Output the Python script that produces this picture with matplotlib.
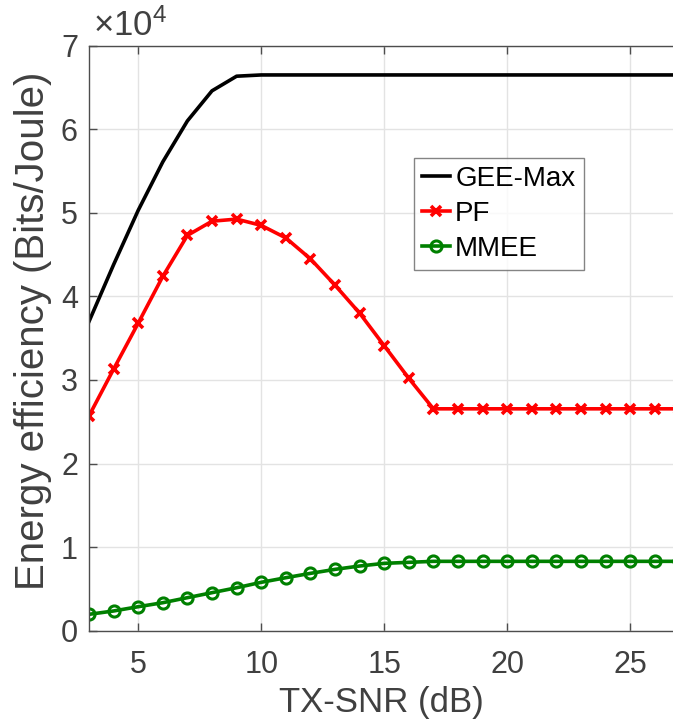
import matplotlib
matplotlib.use("Agg")
import matplotlib.pyplot as plt
import numpy as np

plt.rcParams["font.family"] = ["Liberation Sans", "DejaVu Sans"]
plt.rcParams["mathtext.fontset"] = "custom"
plt.rcParams["mathtext.rm"] = "Liberation Sans"
plt.rcParams["mathtext.it"] = "Liberation Sans"

# TX-SNR in dB
snr = list(range(3, 31))

# Energy efficiency in units of 1e4 Bits/Joule
gee_max = [3.70, 4.38, 5.03, 5.61, 6.10, 6.46, 6.635, 6.65, 6.65, 6.65, 6.65, 6.65, 6.65, 6.65,
           6.65, 6.65, 6.65, 6.65, 6.65, 6.65, 6.65, 6.65, 6.65, 6.65, 6.65, 6.65, 6.65, 6.65]
pf = [2.57, 3.13, 3.68, 4.24, 4.73, 4.90, 4.925, 4.85, 4.70, 4.45, 4.135, 3.80, 3.41, 3.02,
      2.655, 2.655, 2.655, 2.655, 2.655, 2.655, 2.655, 2.655, 2.655, 2.655, 2.655, 2.655,
      2.655, 2.655]
mmee = [0.196, 0.236, 0.287, 0.335, 0.395, 0.455, 0.514, 0.579, 0.634, 0.686, 0.734, 0.774,
        0.806, 0.818, 0.830, 0.830, 0.830, 0.830, 0.830, 0.830, 0.830, 0.830, 0.830, 0.830,
        0.830, 0.830, 0.830, 0.830]

x_ticks = [5, 10, 15, 20, 25]
y_ticks = [0, 1, 2, 3, 4, 5, 6, 7]

TXT = "#404040"
W, H = 673, 727
PX_PER_DB = 24.6
AX_W = (30 - 3) * PX_PER_DB
fig = plt.figure(figsize=(W / 100, H / 100), dpi=100)
ax = fig.add_axes([89 / W, 1 - 630.7 / H, AX_W / W, (630.7 - 45.7) / H])

ax.plot(snr, gee_max, color="black", lw=2.6, label="GEE-Max")
ax.plot(snr, pf, color="#ff0000", lw=2.6, marker="x", ms=7, mew=2.6, label="PF")
ax.plot(snr, mmee, color="#008000", lw=2.6, marker="o", ms=8, mew=2.2,
        mfc="none", label="MMEE")

ax.set_xlim(3, 30)
ax.set_ylim(0, 7)
ax.set_xticks(x_ticks)
ax.set_yticks(y_ticks)
ax.grid(True, color="#e3e3e3", lw=1)
ax.set_axisbelow(True)

for s in ["left", "bottom", "top", "right"]:
    ax.spines[s].set_color("#4d4d4d")
    ax.spines[s].set_linewidth(1.0)
ax.tick_params(axis="both", direction="in", length=6, width=1, color="#4d4d4d",
               labelsize=22, labelcolor=TXT, top=True, right=True)
ax.tick_params(axis="x", pad=14)
ax.tick_params(axis="y", pad=8)

ax.set_xlabel("TX-SNR (dB)", fontsize=25, color=TXT)
ax.xaxis.set_label_coords(((89 + W) / 2 - 89) / AX_W, -0.095)
ax.set_ylabel("Energy efficiency (Bits/Joule)", fontsize=29, color=TXT)
ax.yaxis.set_label_coords(-0.056, 0.512)

ax.text(0.006, 1.005, r"$\times10^{4}$", transform=ax.transAxes, fontsize=25,
        color=TXT, ha="left", va="bottom")

leg = ax.legend(loc="upper left",
                bbox_to_anchor=((413.5 - 89) / AX_W, (630.7 - 157.5) / 585),
                fontsize=20, frameon=True, fancybox=False, edgecolor="#666666",
                handlelength=1.0, handletextpad=0.2, borderpad=0.3, labelspacing=0.32,
                borderaxespad=0)
leg.get_frame().set_linewidth(1.0)

fig.savefig("out.png", dpi=100)
